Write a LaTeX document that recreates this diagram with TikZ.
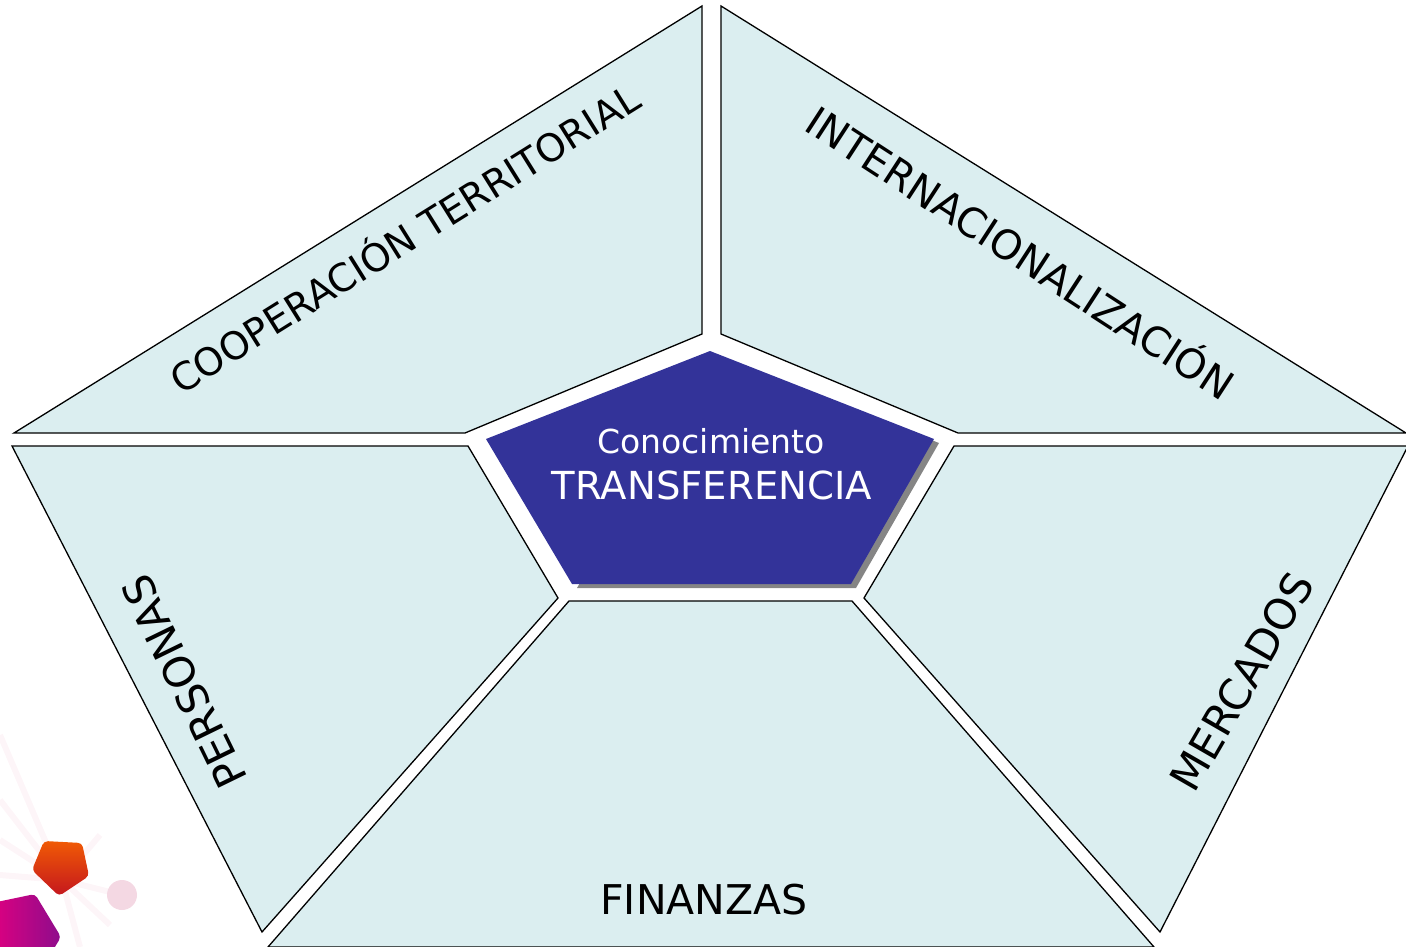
\documentclass[tikz,border=0pt]{standalone}
\usepackage{fontspec}
\setmainfont{DejaVu Sans}
\usetikzlibrary{shadings}
\definecolor{panel}{HTML}{DBEEF0}
\definecolor{core}{HTML}{333399}
\definecolor{shadowgrey}{HTML}{858585}
\definecolor{dotpink}{HTML}{F4D8E3}
\definecolor{raypink}{HTML}{FDF5F8}
\definecolor{orangetop}{HTML}{F05A05}
\definecolor{orangebot}{HTML}{C4161E}
\definecolor{magleft}{HTML}{DE0080}
\definecolor{magright}{HTML}{8E0C8C}
\tikzset{
  x=1pt,y=-1pt,
  panelshape/.style={draw=black,line width=1.3pt,fill=panel,line join=miter},
  label/.style={text=black,inner sep=0pt,anchor=center},
  corelabel/.style={text=white,inner sep=0pt,anchor=center},
  ray/.style={draw=raypink,line width=6pt}
}
\newcommand{\fsz}[1]{\fontsize{#1}{#1}\selectfont}
\begin{document}
\begin{tikzpicture}
\useasboundingbox (0,0) rectangle (1406,947);
% logo background
\coordinate (hub) at (62,880);
\foreach \ex/\ey in {0/735,0/800,0/840,0/875,122/895,110/925,80/947,100/835}{
  \draw[ray] (hub) -- (\ex,\ey);
}
\fill[dotpink] (122,895) circle (15);
\shade[top color=orangetop,bottom color=orangebot,rounded corners=4pt]
  (44,841) -- (82,843) -- (89,876) -- (59,896) -- (32,870) -- cycle;
\shade[left color=magleft,right color=magright,rounded corners=4pt]
  (-8,903) -- (35,894) -- (61,937) -- (50,955) -- (-8,955) -- cycle;
% panels
\draw[panelshape] (702,6) -- (702,334) -- (465,433) -- (14,433) -- cycle;
\draw[panelshape] (721,6) -- (721,334) -- (958,433) -- (1406,433) -- cycle;
\draw[panelshape] (12,446) -- (468,446) -- (558,598) -- (262,932) -- cycle;
\draw[panelshape] (954,446) -- (1408,446) -- (1160,932) -- (864,598) -- cycle;
\draw[panelshape] (569,601) -- (852,601) -- (1154,947) -- (268,947) -- cycle;
% centre
\fill[shadowgrey] (715,355) -- (939,443) -- (856,588) -- (577,588) -- cycle;
\fill[core] (710,351) -- (934,439) -- (851,584) -- (572,584) -- (486,439) -- cycle;
% labels
\node[label,font=\fsz{38.3},rotate=32] (coop) at (403,236) {COOPERACIÓN TERRITORIAL};
\node[label,font=\fsz{40.5},rotate=-33] (inter) at (1022,250) {INTERNACIONALIZACIÓN};
\node[label,font=\fsz{42.5},rotate=116] (pers) at (184,682) {PERSONAS};
\node[label,font=\fsz{42.5},rotate=60] (merc) at (1242,682) {MERCADOS};
\node[label,font=\fsz{41},] (fin) at (704,900) {FINANZAS};
\node[corelabel,font=\fsz{33}] (con) at (711,441) {Conocimiento};
\node[corelabel,font=\fsz{38.6}] (tra) at (712,485) {TRANSFERENCIA};
\end{tikzpicture}
\end{document}
